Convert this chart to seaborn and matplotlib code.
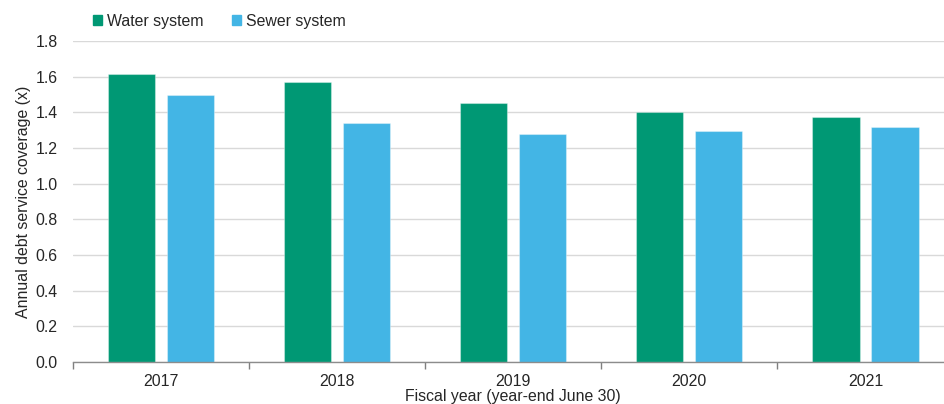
import pandas as pd
import matplotlib.pyplot as plt
import seaborn as sns
from matplotlib.ticker import FixedLocator, MultipleLocator

# data
years = ['2017', '2018', '2019', '2020', '2021']
water = [1.615, 1.57, 1.45, 1.40, 1.375]
sewer = [1.495, 1.34, 1.28, 1.295, 1.32]
systems = ['Water system', 'Sewer system']
colors = ['#009874', '#43B5E5']

df = pd.DataFrame({
    'year': years * 2,
    'coverage': water + sewer,
    'system': [systems[0]] * len(years) + [systems[1]] * len(years),
})

sns.set_style('white')
plt.rcParams['font.family'] = ['Liberation Sans', 'DejaVu Sans']
fs = 11.4

fig = plt.figure(figsize=(9.45, 4.04), dpi=100)
ax = fig.add_axes([73 / 945, 42 / 404, 880.5 / 945, 321 / 404])

sns.barplot(data=df, x='year', y='coverage', hue='system', palette=colors,
            width=0.67, gap=0.2, ax=ax, legend=False, saturation=1)

# faint lighter outline on the bars, like the reference
for bar in ax.patches:
    bar.set_edgecolor((1, 1, 1, 0.35))
    bar.set_linewidth(0.8)

ax.set_ylim(0, 1.8)
ax.set_xlim(-0.5, len(years) - 0.5)
ax.yaxis.set_major_locator(MultipleLocator(0.2))
ax.set_yticklabels([f'{v:.1f}' for v in ax.get_yticks()])
ax.grid(axis='y', color='#d9d9d9', linewidth=1)
ax.set_axisbelow(True)

# category separators on the x axis
ax.xaxis.set_minor_locator(FixedLocator([i - 0.5 for i in range(len(years) + 1)]))
ax.tick_params(axis='x', which='major', length=0, labelsize=fs, pad=9)
ax.tick_params(axis='x', which='minor', length=5, color='#7f7f7f', width=1, bottom=True)
ax.tick_params(axis='y', length=0, labelsize=fs, pad=11)

for side in ['left', 'right', 'top']:
    ax.spines[side].set_visible(False)
ax.spines['bottom'].set_color('#8c8c8c')
ax.spines['bottom'].set_linewidth(1)

ax.set_xlabel('Fiscal year (year-end June 30)', fontsize=fs, labelpad=0)
ax.set_ylabel('Annual debt service coverage (x)', fontsize=fs, labelpad=3)

handles = [plt.Rectangle((0, 0), 1, 1, color=c) for c in colors]
ax.legend(handles, systems, loc='upper left', bbox_to_anchor=(0.015, 1.105), ncol=2,
          frameon=False, fontsize=fs, handlelength=0.6, handleheight=0.6,
          handletextpad=0.3, columnspacing=1.8, borderaxespad=0)

fig.savefig('out.png', dpi=100)
